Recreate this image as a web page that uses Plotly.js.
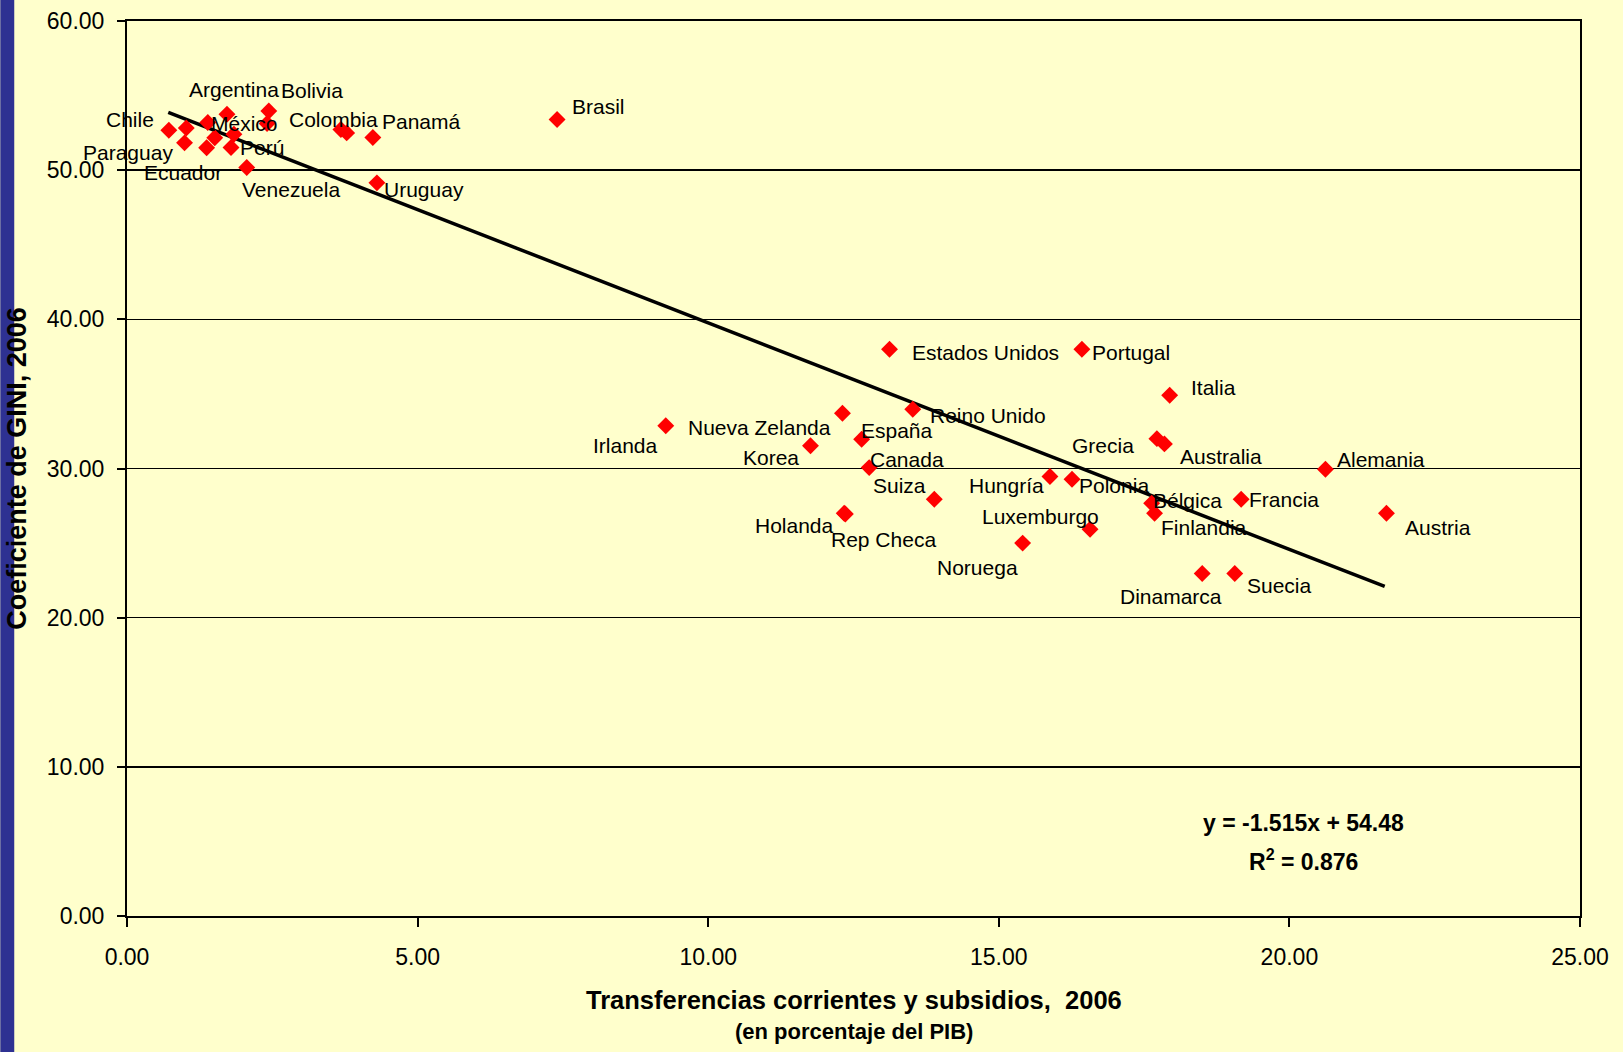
<!DOCTYPE html>
<html>
<head>
<meta charset="utf-8">
<script src="https://cdn.plot.ly/plotly-3.0.1.min.js"></script>
<style>
  html, body { margin: 0; padding: 0; background: #FFFFCC; }
  #chart { width: 1623px; height: 1052px; }
</style>
</head>
<body>
<div id="chart"></div>
<script>
// ---- Data ----
const countries = [
  "Chile", "", "Paraguay", "Ecuador", "México", "", "Argentina", "", "Perú", "Venezuela",
  "Bolivia", "", "Colombia", "", "Panamá", "Uruguay", "Brasil",
  "Estados Unidos", "Portugal", "Italia", "Reino Unido", "Nueva Zelanda", "Irlanda", "España",
  "Korea", "Canada", "Suiza", "Holanda", "Rep Checa", "Hungría", "Luxemburgo", "Noruega",
  "Polonia", "Grecia", "Australia", "Alemania", "Bélgica", "Finlandia", "Francia", "Austria",
  "Dinamarca", "Suecia"
];
const transfers = [
  0.72, 1.02, 0.99, 1.37, 1.39, 1.51, 1.72, 1.84, 1.79, 2.06,
  2.44, 2.41, 3.68, 3.78, 4.23, 4.30, 7.40,
  13.12, 16.43, 17.94, 13.52, 12.31, 9.27, 12.64,
  11.76, 12.77, 13.89, 12.34, 12.36, 15.88, 16.57, 15.41,
  16.26, 17.72, 17.85, 20.62, 17.63, 17.68, 19.17, 21.67,
  18.50, 19.06
];
const gini = [
  52.68, 52.83, 51.83, 51.50, 53.20, 52.17, 53.75, 52.41, 51.52, 50.18,
  53.97, 53.13, 52.73, 52.50, 52.19, 49.15, 53.40,
  37.99, 37.99, 34.91, 33.97, 33.70, 32.87, 31.96,
  31.53, 30.06, 27.94, 27.00, 26.95, 29.46, 25.93, 25.00,
  29.28, 32.00, 31.65, 29.95, 27.67, 27.00, 27.94, 27.00,
  22.96, 22.96
];
// trend line end points as drawn in the picture
const trendX = [0.71, 21.64];
const trendY = [53.87, 22.09];
const equationText = "y = -1.515x + 54.48";
const r2Text = "R<sup>2</sup> = 0.876";
const xTitle = "Transferencias corrientes y subsidios,&nbsp; 2006";
const xSubtitle = "(en porcentaje del PIB)";
const yTitle = "Coeficiente de GINI, 2006";

// ---- label placement (pixel offsets from the marker) ----
const labelShift = {
  "Chile": [-39, 11], "Paraguay": [-57, -10], "Ecuador": [-24, -25], "México": [37, -1],
  "Argentina": [7, 25], "Perú": [31, 0], "Venezuela": [44, -22], "Bolivia": [43, 20],
  "Colombia": [-7, 10], "Panamá": [49, 16], "Uruguay": [47, -7], "Brasil": [41, 13],
  "Estados Unidos": [96, -3], "Portugal": [49, -3], "Italia": [44, 8], "Reino Unido": [75, -6],
  "Nueva Zelanda": [-83, -14], "Irlanda": [-40, -20], "España": [35, 9], "Korea": [-39, -12],
  "Canada": [38, 8], "Suiza": [-35, 14], "Holanda": [-50, -12], "Rep Checa": [38, -25],
  "Hungría": [-43, -9], "Luxemburgo": [-50, 13], "Noruega": [-45, -24], "Polonia": [42, -6],
  "Grecia": [-54, -7], "Australia": [57, -13], "Alemania": [56, 10], "Bélgica": [36, 3],
  "Finlandia": [49, -14], "Francia": [43, 0], "Austria": [52, -14], "Dinamarca": [-31, -23],
  "Suecia": [45, -12]
};

const FONT = "Liberation Sans, Arial, sans-serif";

const annotations = [];
countries.forEach((name, i) => {
  if (!name) return;
  const s = labelShift[name] || [30, 0];
  annotations.push({
    x: transfers[i], y: gini[i], xref: "x", yref: "y",
    text: name, showarrow: false,
    xanchor: "center", yanchor: "middle",
    xshift: s[0], yshift: s[1],
    font: { family: FONT, size: 21, color: "#000000" }
  });
});
annotations.push({
  x: 20.24, y: 6.24, xref: "x", yref: "y", text: "<b>" + equationText + "</b>",
  showarrow: false, xanchor: "center", yanchor: "middle",
  font: { family: FONT, size: 23, color: "#000000" }
});
annotations.push({
  x: 20.24, y: 3.78, xref: "x", yref: "y", text: "<b>" + r2Text + "</b>",
  showarrow: false, xanchor: "center", yanchor: "middle",
  font: { family: FONT, size: 23, color: "#000000" }
});
// axis titles
annotations.push({
  x: 0.5, y: -0.094, xref: "paper", yref: "paper", text: "<b>" + xTitle + "</b>",
  showarrow: false, xanchor: "center", yanchor: "middle",
  font: { family: FONT, size: 25.5, color: "#000000" }
});
annotations.push({
  x: 0.5, y: -0.129, xref: "paper", yref: "paper", text: "<b>" + xSubtitle + "</b>",
  showarrow: false, xanchor: "center", yanchor: "middle",
  font: { family: FONT, size: 22, color: "#000000" }
});
annotations.push({
  x: -0.0762, y: 0.5, xref: "paper", yref: "paper", text: "<b>" + yTitle + "</b>",
  showarrow: false, xanchor: "center", yanchor: "middle", textangle: -90,
  font: { family: FONT, size: 27, color: "#000000" }
});

const traces = [
  {
    type: "scatter", mode: "lines", x: trendX, y: trendY,
    line: { color: "#000000", width: 3.5 }, hoverinfo: "skip", showlegend: false
  },
  {
    type: "scatter", mode: "markers", x: transfers, y: gini, text: countries,
    marker: { symbol: "diamond", size: 13, color: "#FF0000", line: { width: 0 } },
    showlegend: false
  }
];

const layout = {
  width: 1623, height: 1052,
  margin: { l: 127, r: 43, t: 21, b: 136 },
  paper_bgcolor: "#FFFFCC", plot_bgcolor: "#FFFFCC",
  font: { family: FONT, color: "#000000" },
  showlegend: false,
  xaxis: {
    range: [0, 25], dtick: 5, tick0: 0, tickformat: ".2f",
    showgrid: false, zeroline: false,
    showline: true, linecolor: "#000000", linewidth: 2, mirror: true,
    ticks: "outside", ticklen: 9, tickwidth: 2, tickcolor: "#000000",
    tickfont: { family: FONT, size: 23, color: "#000000" },
    ticklabelstandoff: 10
  },
  yaxis: {
    range: [0, 60], dtick: 10, tick0: 0, tickformat: ".2f",
    showgrid: true, gridcolor: "#000000", gridwidth: 1.5, zeroline: false,
    showline: true, linecolor: "#000000", linewidth: 2, mirror: true,
    ticks: "outside", ticklen: 8, tickwidth: 2, tickcolor: "#000000",
    tickfont: { family: FONT, size: 23, color: "#000000" },
    ticklabelstandoff: 8
  },
  shapes: [
    {
      type: "rect", xref: "paper", yref: "paper",
      x0: -0.0872, x1: -0.0776, y0: -0.2, y1: 1.1,
      fillcolor: "#2E3192", line: { width: 0 }, layer: "below"
    }
  ],
  annotations: annotations
};

Plotly.newPlot("chart", traces, layout, { displayModeBar: false, staticPlot: true });
</script>
</body>
</html>
